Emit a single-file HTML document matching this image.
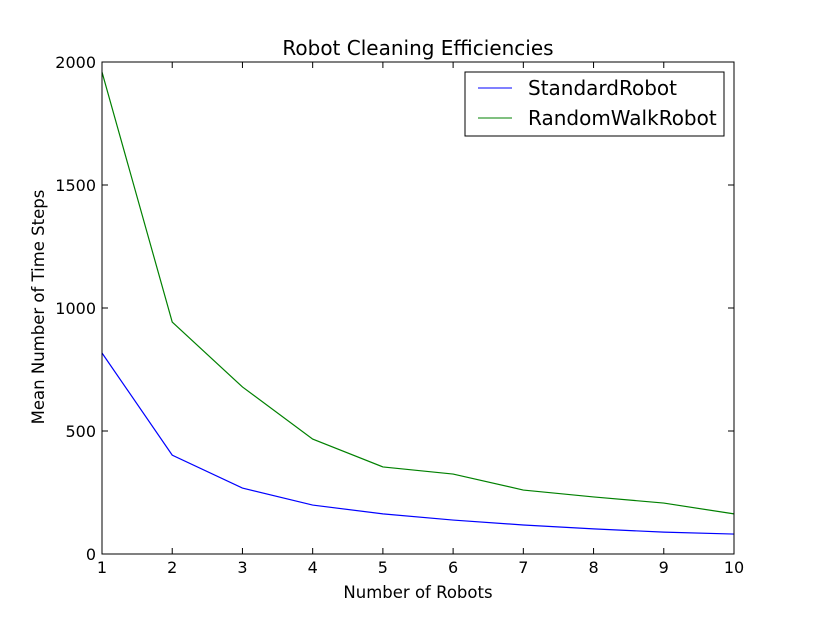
<!DOCTYPE html>
<html><head><meta charset="utf-8"><style>body{margin:0;background:#fff}svg{font-family:"DejaVu Sans",sans-serif}</style></head>
<body>
<svg id="chart" width="815" height="615" viewBox="0 0 815 615">
<rect width="815" height="615" fill="#fff"/>
<text x="418" y="55" font-size="20" text-anchor="middle">Robot Cleaning Efficiencies</text>
<g id="axes"></g>
<g id="lines"></g>
<rect x="102" y="62" width="632" height="492" fill="none" stroke="#000"/>
<text x="418" y="598" font-size="16.5" text-anchor="middle">Number of Robots</text>
<text transform="translate(44,307) rotate(-90)" font-size="16.5" text-anchor="middle">Mean Number of Time Steps</text>
<g>
<rect x="465" y="72" width="259" height="64" fill="#fff" stroke="#000"/>
<line x1="478" y1="88" x2="512" y2="88" stroke="#0000ff"/>
<text x="528" y="95" font-size="20">StandardRobot</text>
<line x1="478" y1="118" x2="512" y2="118" stroke="#008000"/>
<text x="528" y="125" font-size="20">RandomWalkRobot</text>
</g>
</svg>
<script>
const robots=[1,2,3,4,5,6,7,8,9,10];
const standardRobot=[817,402,268,199,163,138,118,102,89,81];
const randomWalkRobot=[1959,943,679,467,354,325,260,232,207,163];
const yTicks=[0,500,1000,1500,2000];
const NS='http://www.w3.org/2000/svg';
const X=v=>102+(v-1)*(632/9);
const Y=v=>554-v*(492/2000);
const axes=document.getElementById('axes'),lines=document.getElementById('lines');
function mk(t,a,p){const e=document.createElementNS(NS,t);for(const k in a)e.setAttribute(k,a[k]);p.appendChild(e);return e;}
robots.forEach(r=>{
 const g=mk('g',{},axes);
 
 
 mk('line',{x1:X(r),x2:X(r),y1:554,y2:548,stroke:'#000'},g);
 mk('line',{x1:X(r),x2:X(r),y1:62,y2:68,stroke:'#000'},g);
 const t=mk('text',{x:X(r),y:573,'font-size':16,'text-anchor':'middle'},g);t.textContent=r;
});
yTicks.forEach(v=>{
 const g=mk('g',{},axes);
 
 
 mk('line',{x1:102,x2:108,y1:Y(v),y2:Y(v),stroke:'#000'},g);
 mk('line',{x1:734,x2:728,y1:Y(v),y2:Y(v),stroke:'#000'},g);
 const t=mk('text',{x:96,y:Y(v)+6,'font-size':16,'text-anchor':'end'},g);t.textContent=v;
});
[[standardRobot,'#0000ff','standard-robot-line'],[randomWalkRobot,'#008000','random-walk-robot-line']].forEach(([d,c,n])=>{
 const p=mk('polyline',{points:d.map((v,i)=>X(robots[i])+','+Y(v)).join(' '),fill:'none',stroke:c,'stroke-width':1.2},lines);
 
 
});
</script>
</body></html>
